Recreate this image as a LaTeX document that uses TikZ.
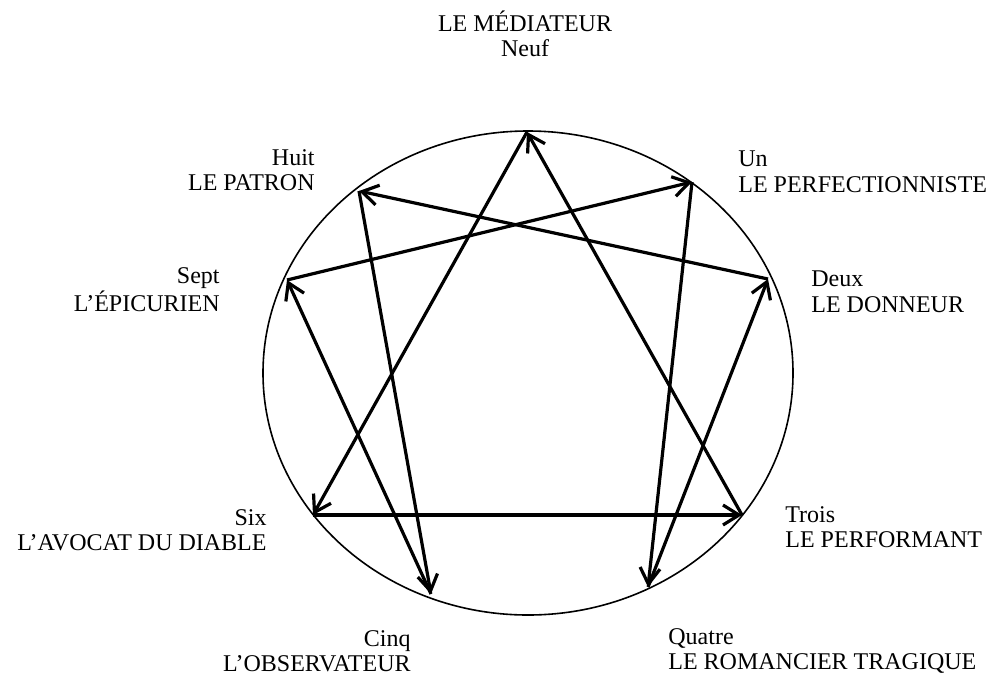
\documentclass[tikz,border=0pt]{standalone}
\usepackage{fontspec}
\setmainfont{Liberation Serif}
\usetikzlibrary{arrows.meta}

\begin{document}
\begin{tikzpicture}[
  x=0.5pt,y=-0.5pt,
  every node/.style={font=\fontsize{12}{12.75}\selectfont,inner sep=0pt},
  lblleft/.style={anchor=west,align=left},
  lblright/.style={anchor=east,align=right},
  arrow/.style={-{Straight Barb[length=8pt,width=10pt]},line width=1.6pt,line join=round},
  rim/.style={line width=0.8pt}
]
\useasboundingbox (0,0) rectangle (989,675);
\draw[rim] (528,373) ellipse [x radius=265,y radius=242];

% points on the circle
\coordinate (pnine) at (527,132);
\coordinate (pone) at (692,182);
\coordinate (ptwo) at (768,279);
\coordinate (pthree) at (742,515);
\coordinate (pfour) at (648,587);
\coordinate (pfive) at (431,594);
\coordinate (psix) at (313,515);
\coordinate (pseven) at (287,280);
\coordinate (peight) at (359,191);

% labels
\node[align=center] (lnine) at (525,34) {LE MÉDIATEUR\\Neuf};
\node[lblleft] (lone) at (738,172) {Un\\LE PERFECTIONNISTE};
\node[lblleft] (ltwo) at (811,292) {Deux\\LE DONNEUR};
\node[lblleft] (lthree) at (785,527) {Trois\\LE PERFORMANT};
\node[lblleft] (lfour) at (668,651) {Quatre\\LE ROMANCIER TRAGIQUE};
\node[lblright] (lfive) at (411,651) {Cinq\\L’OBSERVATEUR};
\node[lblright] (lsix) at (267,530) {Six\\L’AVOCAT DU DIABLE};
\node[lblright] (lseven) at (220,290) {Sept\\L’ÉPICURIEN};
\node[lblright] (leight) at (315,170) {Huit\\LE PATRON};

% hexad
\draw[arrow] (pone) -- (pfour);
\draw[arrow] (pfour) -- (ptwo);
\draw[arrow] (ptwo) -- (peight);
\draw[arrow] (peight) -- (pfive);
\draw[arrow] (pfive) -- (pseven);
\draw[arrow] (pseven) -- (pone);
% triangle
\draw[arrow] (pnine) -- (psix);
\draw[arrow] (psix) -- (pthree);
\draw[arrow] (pthree) -- (pnine);
\end{tikzpicture}
\end{document}
